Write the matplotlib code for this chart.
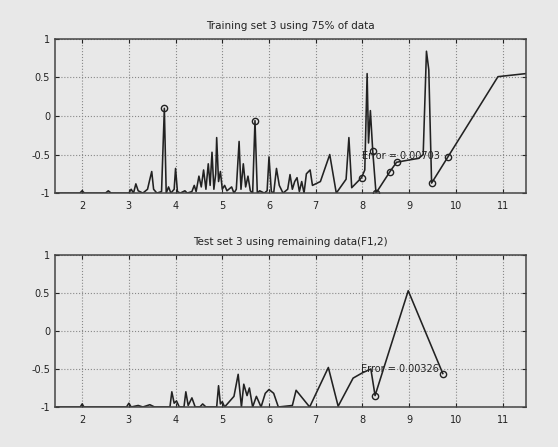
import matplotlib
matplotlib.use("Agg")
import matplotlib.pyplot as plt

# Training set curve
train_x = [1.45, 1.95, 2.0, 2.05, 2.5, 2.56, 2.62, 3.0, 3.05, 3.1, 3.15, 3.2, 3.3,
           3.4, 3.45, 3.49, 3.53, 3.6, 3.7, 3.76, 3.8, 3.85, 3.9, 3.97, 4.0, 4.04,
           4.1, 4.2, 4.25, 4.35, 4.4, 4.44, 4.5, 4.55, 4.6, 4.65, 4.7, 4.74, 4.78,
           4.82, 4.86, 4.88, 4.92, 4.96, 5.0, 5.05, 5.1, 5.2, 5.25, 5.3, 5.36, 5.4,
           5.45, 5.5, 5.55, 5.6, 5.65, 5.70, 5.75, 5.8, 5.9, 5.96, 6.0, 6.05, 6.1,
           6.16, 6.22, 6.3, 6.4, 6.45, 6.5, 6.55, 6.6, 6.65, 6.7, 6.75, 6.8, 6.88,
           6.93, 7.1, 7.3, 7.44, 7.65, 7.71, 7.77, 7.98, 8.05, 8.10, 8.13, 8.17,
           8.22, 8.29, 8.59, 8.73, 9.0, 9.2, 9.3, 9.37, 9.42, 9.48, 9.83, 10.9, 11.5]
train_y = [-1, -1, -0.97, -1, -1, -0.97, -1, -1, -0.95, -1, -0.88, -0.97, -1,
           -0.95, -0.82, -0.72, -0.95, -1, -0.98, 0.1, -1, -0.92, -1, -0.95, -0.68, -0.98,
           -1, -0.97, -1, -0.98, -0.9, -0.98, -0.78, -0.92, -0.7, -0.95, -0.62, -0.9, -0.47,
           -0.95, -0.75, -0.28, -0.85, -0.72, -0.95, -0.9, -0.97, -0.92, -1, -0.95, -0.33, -0.95,
           -0.62, -0.92, -0.78, -0.97, -1, -0.06, -1, -0.97, -1, -0.97, -0.53, -0.98, -1,
           -0.68, -0.9, -1, -0.95, -0.76, -0.95, -0.85, -0.8, -0.98, -0.85, -1, -0.75, -0.7,
           -0.9, -0.85, -0.5, -1, -0.82, -0.28, -0.93, -0.8, -0.7, 0.55, -0.35, 0.07,
           -0.45, -1, -0.72, -0.6, -0.57, -0.55, -0.5, 0.84, 0.6, -0.87, -0.53, 0.51, 0.55]
train_mark_x = [3.76, 5.70, 7.98, 8.22, 8.29, 8.59, 8.73, 9.48, 9.83]
train_mark_y = [0.1, -0.06, -0.8, -0.45, -1, -0.72, -0.6, -0.87, -0.53]

# Test set curve
test_x = [1.45, 1.96, 2.0, 2.04, 2.95, 3.0, 3.05, 3.2, 3.3, 3.45, 3.55, 3.88, 3.92,
          3.97, 4.02, 4.08, 4.18, 4.22, 4.27, 4.35, 4.42, 4.52, 4.58, 4.65, 4.88,
          4.92, 4.96, 5.0, 5.05, 5.25, 5.34, 5.41, 5.46, 5.53, 5.58, 5.65, 5.73,
          5.83, 5.92, 6.0, 6.1, 6.2, 6.5, 6.58, 6.87, 7.27, 7.48, 7.8, 8.0, 8.18,
          8.27, 8.98, 9.72]
test_y = [-1, -1, -0.96, -1, -1, -0.95, -1, -0.98, -1, -0.97, -1, -1, -0.8,
          -0.95, -0.92, -1, -1, -0.8, -0.98, -0.88, -1, -1, -0.96, -1, -1,
          -0.72, -0.96, -0.93, -1, -0.86, -0.57, -1, -0.7, -0.85, -0.75, -1, -0.86,
          -1, -0.82, -0.77, -0.82, -1, -0.98, -0.78, -1, -0.48, -0.99, -0.62, -0.55, -0.5,
          -0.85, 0.53, -0.56]
test_mark_x = [8.27, 9.72]
test_mark_y = [-0.85, -0.56]

x_ticks = [2, 3, 4, 5, 6, 7, 8, 9, 10, 11]
y_ticks = [-1, -0.5, 0, 0.5, 1]
y_labels = ["-1", "-0.5", "0", "0.5", "1"]

bg = "#e8e8e8"
ink = "#222222"

fig = plt.figure(figsize=(5.58, 4.47), dpi=100, facecolor=bg)


def panel(rect, xs, ys, mx, my, title, err_text, err_pos):
    ax = fig.add_axes(rect, facecolor=bg)
    ax.plot(xs, ys, color=ink, linewidth=1.15)
    ax.plot(mx, my, linestyle="none", marker="o", markersize=4.5,
            markerfacecolor="none", markeredgecolor=ink, markeredgewidth=1.0)
    ax.text(err_pos[0], err_pos[1], err_text, fontsize=7, color=ink, va="center")
    ax.set_xlim(1.42, 11.5)
    ax.set_ylim(-1, 1)
    ax.set_xticks(x_ticks)
    ax.set_yticks(y_ticks)
    ax.set_yticklabels(y_labels)
    ax.tick_params(direction="in", labelsize=7, colors=ink, length=3,
                   top=True, right=True)
    ax.tick_params(axis="x", pad=6)
    ax.grid(True, linestyle=":", color="#888888", linewidth=0.8)
    for s in ax.spines.values():
        s.set_color("#444444")
        s.set_linewidth(1.1)
    ax.set_title(title, fontsize=7.5, color=ink, pad=7)
    return ax


panel([0.0986, 0.568, 0.844, 0.345], train_x, train_y, train_mark_x, train_mark_y,
      "Training set 3 using 75% of data", "Error = 0.00703", (8.0, -0.52))
panel([0.0986, 0.0895, 0.844, 0.340], test_x, test_y, test_mark_x, test_mark_y,
      "Test set 3 using remaining data(F1,2)", "Error = 0.00326", (7.97, -0.5))

fig.savefig("out.png", dpi=100, facecolor=bg)
